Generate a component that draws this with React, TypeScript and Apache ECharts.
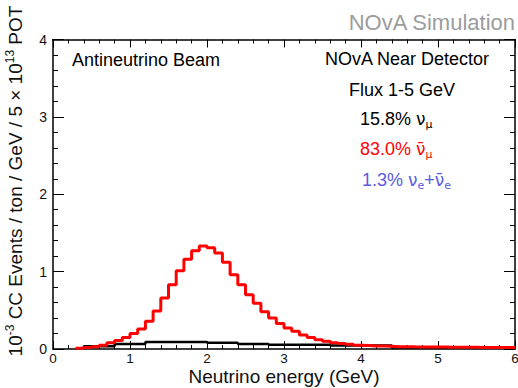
import React, { useEffect, useRef } from "react";
import * as echarts from "echarts";

// Red histogram: anti-numu CC, 0.1 GeV bins starting at 0.3 GeV
const redBinLow = 0.3;
const redBinWidth = 0.1;
const redValues = [
  0.01, 0.02, 0.03, 0.05, 0.08, 0.11, 0.15,
  0.2, 0.26, 0.36, 0.49, 0.66, 0.83, 1.01, 1.16, 1.27, 1.33,
  1.31, 1.24, 1.12, 0.96, 0.83, 0.7, 0.59, 0.48, 0.4, 0.33,
  0.27, 0.23, 0.18, 0.15, 0.12, 0.1, 0.08, 0.07, 0.06, 0.05,
  0.045, 0.04, 0.04, 0.035, 0.03, 0.03, 0.028, 0.027, 0.026, 0.025,
  0.025, 0.024, 0.023, 0.022, 0.022, 0.021, 0.02, 0.02, 0.02, 0.019,
];

// Black histogram: numu CC, variable bins
const blackEdges = [0.4, 0.8, 1.2, 2.0, 2.4, 2.8, 3.6, 4.4, 6.0];
const blackValues = [0.035, 0.065, 0.09, 0.08, 0.065, 0.055, 0.045, 0.02];

const xTicks = [0, 1, 2, 3, 4, 5, 6];
const yTicks = [0, 1, 2, 3, 4];

const FONT = "'Liberation Sans', Arial, Helvetica, sans-serif";
const GREEK = "'DejaVu Sans', 'Liberation Sans', sans-serif";

function stepData(edges: number[], values: number[]) {
  const d: number[][] = [[edges[0], 0]];
  for (let i = 0; i < values.length; i++) d.push([edges[i], values[i]]);
  d.push([edges[edges.length - 1], values[values.length - 1]]);
  return d;
}

export default function App() {
  const ref = useRef<HTMLDivElement>(null);
  useEffect(() => {
    if (!ref.current) return;
    const chart = echarts.init(ref.current, null, { renderer: "svg" });
    const redEdges = redValues.map((_, i) => +(redBinLow + i * redBinWidth).toFixed(2));
    redEdges.push(+(redBinLow + redValues.length * redBinWidth).toFixed(2));

    const xMin = xTicks[0];
    const xMax = xTicks[xTicks.length - 1];
    const yMin = yTicks[0];
    const yMax = yTicks[yTicks.length - 1];

    const axisCommon = {
      axisLine: { show: true, onZero: false, lineStyle: { color: "#000", width: 1.5 } },
      splitLine: { show: false },
      minorTick: { show: true, splitNumber: 5, lineStyle: { color: "#000", width: 1 } },
    };

    const xAxisBase = (pos: string, labels: boolean) => ({
      type: "value",
      position: pos,
      min: xMin,
      max: xMax,
      interval: 1,
      ...axisCommon,
      axisTick: { show: true, inside: true, length: 8, lineStyle: { color: "#000", width: 1 } },
      minorTick: { ...axisCommon.minorTick, length: 4 },
      axisLabel: {
        show: labels,
        margin: 3,
        fontSize: 13.5,
        lineHeight: 13,
        color: "#111",
        fontFamily: FONT,
        hideOverlap: false,
      },
    });
    const yAxisBase = (pos: string, labels: boolean) => ({
      type: "value",
      position: pos,
      min: yMin,
      max: yMax,
      interval: 1,
      ...axisCommon,
      axisTick: { show: true, inside: true, length: 11, lineStyle: { color: "#000", width: 1 } },
      minorTick: { ...axisCommon.minorTick, length: 5 },
      axisLabel: {
        show: labels,
        margin: 6,
        fontSize: 14,
        color: "#111",
        fontFamily: FONT,
      },
    });

    const richLegend = {
      m: { fontSize: 18, fontFamily: FONT, lineHeight: 22 },
      v: { fontSize: 17, fontFamily: GREEK, lineHeight: 22 },
      s: { fontSize: 11, fontFamily: GREEK, lineHeight: 11, verticalAlign: "bottom" },
    };

    const option: any = {
      animation: false,
      backgroundColor: "#fff",
      grid: {
        left: 53,
        right: 3,
        top: 39.5,
        bottom: 39,
        containLabel: false,
        outerBoundsMode: "none",
      },
      xAxis: [
        {
          ...xAxisBase("bottom", true),
          name: "Neutrino energy (GeV)",
          nameLocation: "middle",
          nameGap: 17,
          nameMoveOverlap: false,
          nameTextStyle: { fontSize: 19, lineHeight: 20, color: "#111", fontFamily: FONT },
        },
        xAxisBase("top", false),
      ],
      yAxis: [yAxisBase("left", true), yAxisBase("right", false)],
      series: [
        {
          type: "line",
          name: "numu",
          step: "end",
          symbol: "none",
          data: stepData(blackEdges, blackValues),
          lineStyle: { color: "#000", width: 2.5 },
          z: 2,
        },
        {
          type: "line",
          name: "numubar",
          step: "end",
          symbol: "none",
          data: stepData(redEdges, redValues),
          lineStyle: { color: "#ff0000", width: 3 },
          z: 3,
        },
      ],
      graphic: [
        {
          type: "text",
          x: 515,
          y: 22,
          style: {
            text: "NOvA Simulation",
            align: "right",
            verticalAlign: "middle",
            fontSize: 22,
            fontFamily: FONT,
            fill: "#9c9c9c",
          },
        },
        {
          type: "text",
          x: 15,
          y: 181,
          rotation: Math.PI / 2,
          style: {
            text: "{n|10}{p|-3}{n| CC Events / ton / GeV / 5 \u00d7 10}{p|13}{n| POT}",
            align: "center",
            verticalAlign: "middle",
            fill: "#111",
            rich: {
              n: { fontSize: 19, fontFamily: FONT, lineHeight: 22 },
              p: { fontSize: 12, fontFamily: FONT, lineHeight: 12, verticalAlign: "top" },
            },
          },
        },
        {
          type: "text",
          x: 72,
          y: 60,
          style: { text: "Antineutrino Beam", verticalAlign: "middle", fontSize: 18, fontFamily: FONT, fill: "#000" },
        },
        {
          type: "text",
          x: 325,
          y: 59,
          style: { text: "NOvA Near Detector", verticalAlign: "middle", fontSize: 18, fontFamily: FONT, fill: "#000" },
        },
        {
          type: "text",
          x: 349,
          y: 90,
          style: { text: "Flux 1-5 GeV", verticalAlign: "middle", fontSize: 18, fontFamily: FONT, fill: "#000" },
        },
        {
          type: "text",
          x: 360,
          y: 119,
          style: {
            text: "{m|15.8% }{v|\u03bd}{s|\u03bc}",
            verticalAlign: "middle",
            fill: "#000",
            rich: richLegend,
          },
        },
        {
          type: "text",
          x: 360,
          y: 149,
          style: {
            text: "{m|83.0% }{v|\u03bd\u0304}{s|\u03bc}",
            verticalAlign: "middle",
            fill: "#ff0000",
            rich: richLegend,
          },
        },
        {
          type: "text",
          x: 362,
          y: 180,
          style: {
            text: "{m|1.3% }{v|\u03bd}{s|e}{m|+}{v|\u03bd\u0304}{s|e}",
            verticalAlign: "middle",
            fill: "#5a5ae0",
            rich: richLegend,
          },
        },
      ],
    };
    chart.setOption(option);
    return () => chart.dispose();
  }, []);
  return (
    <div
      ref={ref}
      style={{ position: "fixed", left: 0, top: 0, width: 518, height: 388 }}
    />
  );
}
